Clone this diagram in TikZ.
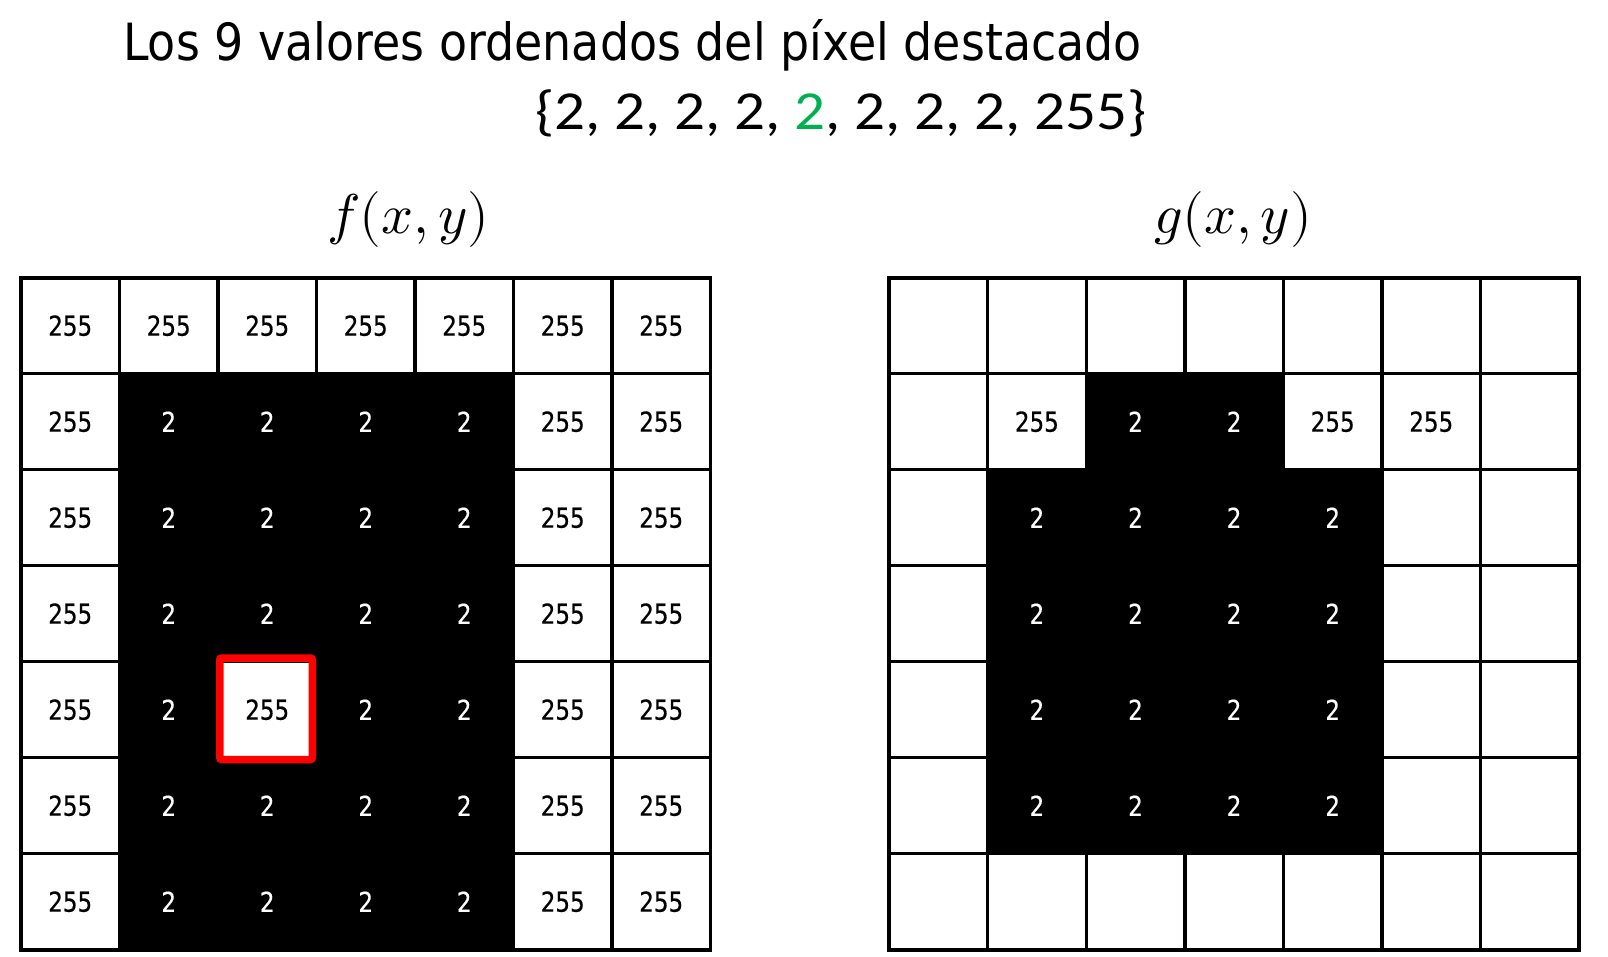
\documentclass[tikz,border=0pt]{standalone}
\usepackage{fontspec}
\usepackage{unicode-math}
\newfontfamily\tfont[FakeStretch=0.895]{DejaVu Sans}
\newfontfamily\cfont[FakeStretch=0.84,FakeBold=0.4]{DejaVu Sans}
\newfontfamily\bfont[FakeStretch=1.11]{Carlito}
\definecolor{hlgreen}{RGB}{0,176,80}
\definecolor{hlred}{RGB}{255,0,0}
\tikzset{
  cell/.style={draw=black, line width=3.4pt, minimum width=98.5pt, minimum height=96pt,
    inner sep=0pt, outer sep=0pt, font=\cfont\fontsize{27.4}{30}\selectfont},
  cellR/.style={cell, minimum width=98.6pt},
  v2/.style={fill=black, text=white, node contents={2}},
  v255/.style={fill=white, text=black, node contents={255}},
  ve/.style={fill=white, node contents={}},
  border/.style={draw=black, line width=3.6pt},
  redbox/.style={draw=hlred, line width=7.5pt, rounded corners=2pt},
  mtitle/.style={anchor=base, inner sep=0pt, font=\fontsize{56}{60}\selectfont},
}
\begin{document}
\begin{tikzpicture}[x=1pt, y=-1pt]
\useasboundingbox[fill=white] (0,0) rectangle (1608,956);
% header texts
\node[anchor=base west, inner sep=0pt, font=\tfont\fontsize{51.3}{60}\selectfont] (head) at (123,60.7)
  {Los 9 valores ordenados del píxel destacado};
\node[anchor=base west, inner sep=0pt, font=\bfont\fontsize{55}{60}\selectfont] (list) at (535,129.3)
  {\{2, 2, 2, 2, \textcolor{hlgreen}{2}, 2, 2, 2, 255\}};
% titles
\node[mtitle] (ftitle) at (408.5,233) {$f(x,y)$};
\node[mtitle] (gtitle) at (1233,233) {$g(x,y)$};
% left grid
\foreach \row [count=\r from 0] in {
  {255,255,255,255,255,255,255},
  {255,2,2,2,2,255,255},
  {255,2,2,2,2,255,255},
  {255,2,2,2,2,255,255},
  {255,2,255,2,2,255,255},
  {255,2,2,2,2,255,255},
  {255,2,2,2,2,255,255}}{
  \foreach \v [count=\c from 0] in \row {
    \node[cell, name=L-\r-\c, at={({21+98.5*\c+49.25},{277.7+96*\r+48})}, v\v];
  }
}
% right grid
\foreach \row [count=\r from 0] in {
  {e,e,e,e,e,e,e},
  {e,255,2,2,255,255,e},
  {e,2,2,2,2,e,e},
  {e,2,2,2,2,e,e},
  {e,2,2,2,2,e,e},
  {e,2,2,2,2,e,e},
  {e,e,e,e,e,e,e}}{
  \foreach \v [count=\c from 0] in \row {
    \node[cellR, name=R-\r-\c, at={({889+98.6*\c+49.3},{277.7+96*\r+48})}, v\v];
  }
}
\draw[border] (L-0-0.north west) rectangle (L-6-6.south east);
\draw[border] (R-0-0.north west) rectangle (R-6-6.south east);
% highlighted pixel
\draw[redbox] ([shift={(1.75,-3.7)}]L-4-2.north west) rectangle ([shift={(-4.25,1.9)}]L-4-2.south east);
\end{tikzpicture}
\end{document}
